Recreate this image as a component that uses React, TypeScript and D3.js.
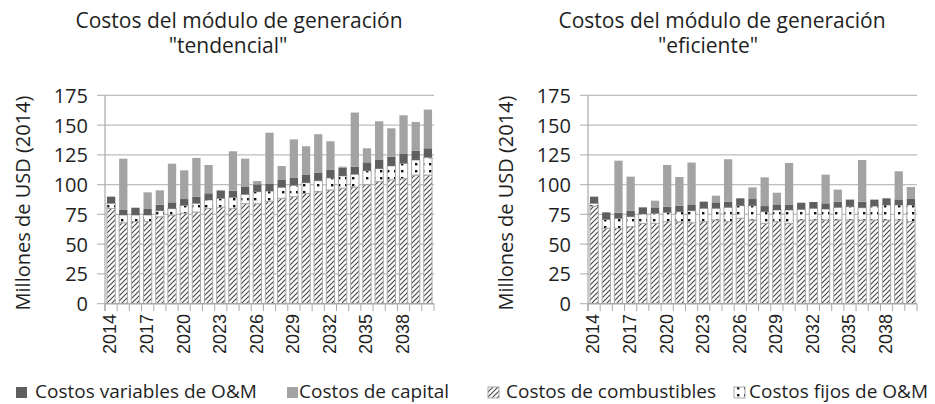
import React, { useEffect, useRef } from "react";
import * as d3 from "d3";

const years = [
  "2014", "2015", "2016", "2017", "2018", "2019", "2020", "2021", "2022",
  "2023", "2024", "2025", "2026", "2027", "2028", "2029", "2030", "2031",
  "2032", "2033", "2034", "2035", "2036", "2037", "2038", "2039", "2040",
];
const yTicks = [0, 25, 50, 75, 100, 125, 150, 175];

// escenario "tendencial"
const tendCombustibles = [80, 68, 69, 69, 73, 74.5, 76, 77, 80, 81, 80, 84, 84, 86, 88.5, 90, 92.5, 94, 95.5, 97, 98, 100, 102.5, 104, 105, 108, 108];
const tendFijos = [4.3, 6.5, 5.5, 5.5, 5.1, 5.3, 6.6, 7.3, 7.1, 7.5, 9.3, 7.8, 10.1, 8.6, 9.2, 9.4, 9.1, 9.3, 10.1, 10.3, 10.7, 11.7, 10.9, 11.7, 12.9, 12.7, 14.9];
const tendVariables = [5.6, 4.2, 6.1, 5, 5.1, 5.3, 5.3, 5.6, 5.6, 6.5, 5.6, 6.2, 6.1, 5.9, 6.2, 6.2, 6.5, 6.5, 6.7, 6.7, 6.4, 7, 7.3, 7.8, 7.8, 7.8, 7.6];
const tendCapital = [0, 43.1, 0, 14, 12, 32.5, 24.1, 32.5, 23.8, 0.5, 33.1, 23.8, 2.8, 43.1, 11.7, 32.4, 24.1, 32.5, 24.1, 1.1, 45.4, 11.8, 32.5, 23.8, 32.5, 24.1, 32.5];

// escenario "eficiente"
const efCombustibles = [82, 63.3, 63.3, 64.7, 67.5, 67.5, 68.9, 68.9, 68, 68.9, 70.3, 68.9, 71.7, 70.3, 67.5, 68.9, 67.5, 70.3, 70.3, 70.3, 70.3, 70.3, 70.3, 70.3, 70.3, 70.3, 68.9];
const efFijos = [2.3, 7.5, 8.4, 8.4, 7.8, 8.4, 7.8, 8.4, 10.1, 11.2, 9.8, 12, 10.6, 12, 9.8, 9.8, 11.2, 8.9, 9.8, 9.2, 10.6, 11.2, 10.3, 11.7, 12.6, 12.6, 14];
const efVariables = [5.6, 5.9, 4.7, 5, 5.6, 5, 4.8, 5, 4.8, 5.6, 5, 4.8, 6.2, 5.6, 4.7, 4.7, 4.2, 5.6, 5.3, 4.8, 4.8, 5.9, 5.1, 5.4, 5.6, 4.7, 5];
const efCapital = [0, 0, 43.7, 28.6, 0, 5.6, 35, 24.1, 35.6, 0, 5.6, 35.6, 0, 9.8, 24.1, 9.8, 35.3, 0, 0, 24.1, 10.1, 0, 35, 0, 0, 23.6, 10.1];

const keys = ["combustibles", "fijos", "variables", "capital"];
const fills: Record<string, string> = {
  combustibles: "url(#hatch)",
  fijos: "url(#dots)",
  variables: "#5f5f5f",
  capital: "#a3a3a3",
};

const FONT = "'Open Sans', sans-serif";
const TXT = "#1f1f1f";

function buildRows(c: number[], f: number[], v: number[], k: number[]) {
  return years.map((y, i) => ({ year: y, combustibles: c[i], fijos: f[i], variables: v[i], capital: k[i] }));
}

const y = d3.scaleLinear().domain([0, 175]).range([303.7, 95.3]);

function Panel({ x0, rows, titleX1, titleX2, sub, labelX }: any) {
  const axisRef = useRef<SVGGElement>(null);
  const x = d3.scaleBand<string>().domain(years).range([x0, x0 + 329]).paddingInner(0.32).paddingOuter(0.16);
  const step = x.step();
  const series = d3.stack<any>().keys(keys)(rows);

  useEffect(() => {
    const g = d3.select(axisRef.current);
    g.selectAll("*").remove();
    // etiquetas del eje x, giradas
    const xAxis = d3
      .axisBottom(x)
      .tickValues(years.filter((_, i) => i % 3 === 0))
      .tickSize(0)
      .tickPadding(0);
    g.attr("transform", `translate(-1,314)`).call(xAxis);
    g.select(".domain").remove();
    g.selectAll("text")
      .attr("x", 0)
      .attr("y", 0)
      .attr("dy", "0.35em")
      .attr("transform", "rotate(-90)")
      .style("text-anchor", "end")
      .attr("font-family", "'Liberation Sans', Arial, sans-serif")
      .attr("font-size", 18)
      .attr("fill", TXT);
  }, [x0]);

  return (
    <g>
      <text x={titleX1} y={28} textAnchor="middle" fontFamily={FONT} fontSize={21} fill={TXT}>
        Costos del módulo de generación
      </text>
      <text x={titleX2} y={53} textAnchor="middle" fontFamily={FONT} fontSize={21} fill={TXT}>
        {sub}
      </text>
      <text
        x={labelX}
        y={203}
        transform={`rotate(-90 ${labelX} 203)`}
        textAnchor="middle"
        dominantBaseline="central"
        fontFamily={FONT}
        fontSize={20}
        fill={TXT}
      >
        Millones de USD (2014)
      </text>
      {yTicks.map((t) => (
        <g key={t}>
          <line x1={x0 - 8} x2={x0 + 329} y1={y(t)} y2={y(t)} stroke="#bdbdbd" strokeWidth={1.2} />
          <text x={x0 - 17} y={y(t)} textAnchor="end" dominantBaseline="central" fontFamily={FONT} fontSize={20} fill={TXT}>
            {t}
          </text>
        </g>
      ))}
      {series.map((s) => (
        <g key={s.key}>
          {s.map((d, i) => {
            const h = y(d[0]) - y(d[1]);
            if (h <= 0) return null;
            const outlined = s.key === "combustibles" || s.key === "fijos";
            return (
              <rect
                key={i}
                x={x(years[i])}
                y={y(d[1])}
                width={x.bandwidth()}
                height={h}
                fill={fills[s.key]}
                stroke={outlined ? "#a8a8a8" : "none"}
                strokeWidth={1}
              />
            );
          })}
        </g>
      ))}
      <line x1={x0} x2={x0} y1={95} y2={311} stroke="#a8a8a8" strokeWidth={1.2} />
      <line x1={x0} x2={x0 + 329} y1={y(0)} y2={y(0)} stroke="#a8a8a8" strokeWidth={1.2} />
      {d3.range(years.length + 1).map((i) => (
        <line key={i} x1={x0 + i * step} x2={x0 + i * step} y1={y(0)} y2={311} stroke="#a8a8a8" strokeWidth={1} />
      ))}
      <g ref={axisRef} />
    </g>
  );
}

export default function App() {
  const tend = buildRows(tendCombustibles, tendFijos, tendVariables, tendCapital);
  const ef = buildRows(efCombustibles, efFijos, efVariables, efCapital);
  return (
    <svg width={935} height={404} style={{ position: "absolute", left: 0, top: 0, background: "#fff" }}>
      <defs>
        <pattern id="hatch" patternUnits="userSpaceOnUse" width={5} height={5}>
          <rect width={5} height={5} fill="#fff" />
          <path d="M-1,1 l2,-2 M0,5 l5,-5 M4,6 l2,-2" stroke="#4a4a4a" strokeWidth={1.2} />
        </pattern>
        <pattern id="dots" patternUnits="userSpaceOnUse" width={7} height={7}>
          <rect width={7} height={7} fill="#fff" />
          <rect x={2} y={2} width={2.4} height={2.4} fill="#111" />
        </pattern>
      </defs>
      <Panel x0={105} rows={tend} titleX1={239} titleX2={228} sub={'"tendencial"'} labelX={22} />
      <Panel x0={588} rows={ef} titleX1={722} titleX2={708} sub={'"eficiente"'} labelX={505} />
      <g fontFamily={FONT} fontSize={19} fill={TXT}>
        <rect x={16} y={387} width={11} height={11} fill="#5f5f5f" />
        <text x={35} y={398}>Costos variables de O&amp;M</text>
        <rect x={287} y={387} width={11} height={11} fill="#a3a3a3" />
        <text x={299} y={398}>Costos de capital</text>
        <rect x={488} y={387} width={11} height={11} fill="url(#hatch)" stroke="#a8a8a8" />
        <text x={506} y={398}>Costos de combustibles</text>
        <rect x={734} y={387} width={11} height={11} fill="url(#dots)" stroke="#a8a8a8" />
        <text x={749} y={398}>Costos fijos de O&amp;M</text>
      </g>
    </svg>
  );
}
